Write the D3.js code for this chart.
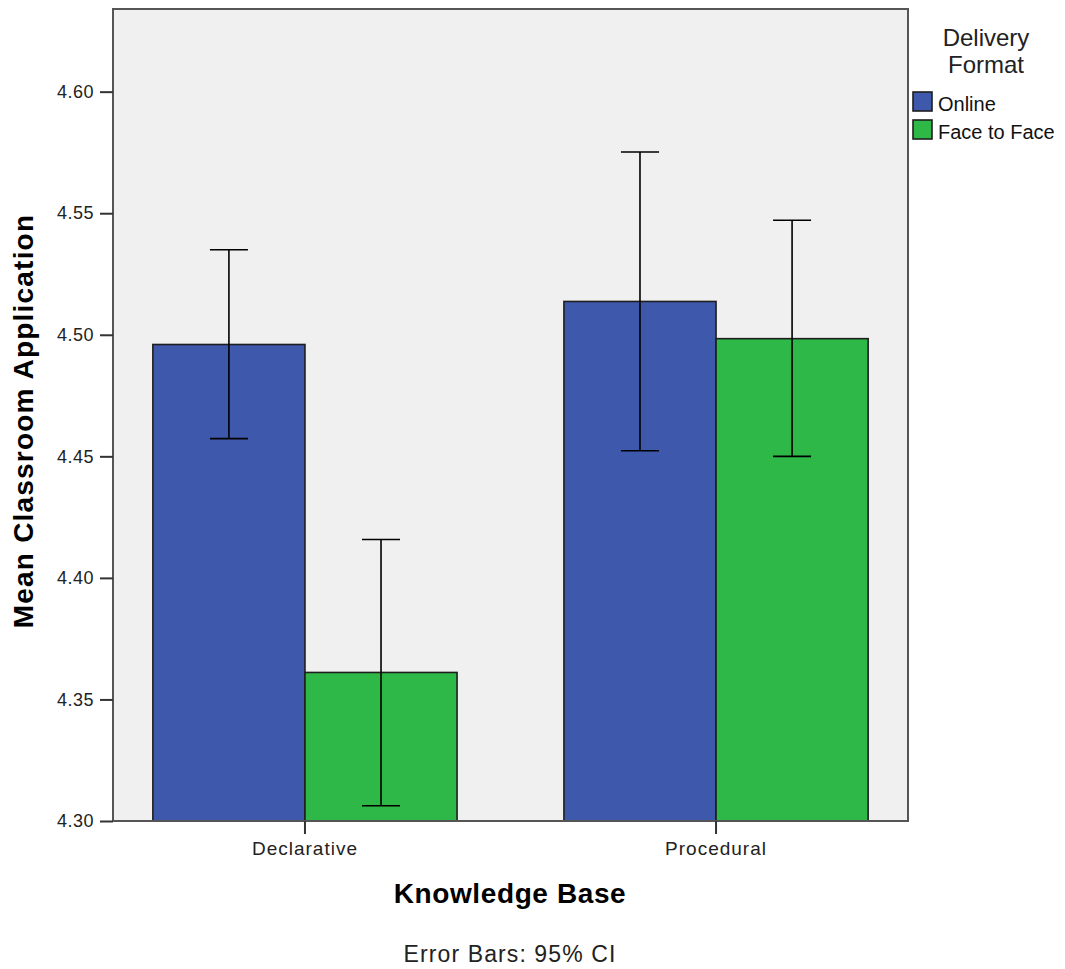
<!DOCTYPE html>
<html>
<head>
<meta charset="utf-8">
<script src="https://cdn.jsdelivr.net/npm/d3@7"></script>
<style>
  html, body { margin: 0; padding: 0; background: #fff; }
  svg { display: block; font-family: "Liberation Sans", Arial, sans-serif; }
</style>
</head>
<body>
<svg id="chart" width="1065" height="969"></svg>
<script>
// Mean classroom application by knowledge base and delivery format (95% CI)
const categories = ["Declarative", "Procedural"];
const seriesNames = ["Online", "Face to Face"];
const seriesColors = ["#3e58ac", "#2eb848"];
const onlineMeans = [4.496, 4.5137];
const onlineLower = [4.4573, 4.4523];
const onlineUpper = [4.5350, 4.5752];
const f2fMeans = [4.3611, 4.4984];
const f2fLower = [4.3063, 4.4500];
const f2fUpper = [4.4158, 4.5471];
const yTicks = [4.30, 4.35, 4.40, 4.45, 4.50, 4.55, 4.60];

const rows = [];
categories.forEach((c, i) => {
  rows.push({ cat: c, series: seriesNames[0], mean: onlineMeans[i], lo: onlineLower[i], hi: onlineUpper[i] });
  rows.push({ cat: c, series: seriesNames[1], mean: f2fMeans[i], lo: f2fLower[i], hi: f2fUpper[i] });
});

const svg = d3.select("#chart");
const plot = { left: 113, right: 908, top: 9, bottom: 821 };

const y = d3.scaleLinear().domain([4.30, 4.634]).range([plot.bottom, plot.top]);
const x0 = d3.scaleBand().domain(categories).range([plot.left, plot.right])
  .paddingInner(0.26).paddingOuter(0.097);
const x1 = d3.scaleBand().domain(seriesNames).range([0, x0.bandwidth()]).padding(0);
const color = d3.scaleOrdinal().domain(seriesNames).range(seriesColors);

// plot background
svg.append("rect")
  .attr("x", plot.left).attr("y", plot.top)
  .attr("width", plot.right - plot.left).attr("height", plot.bottom - plot.top)
  .attr("fill", "#f0f0f0");

// bars
svg.append("g").selectAll("rect").data(rows).join("rect")
  .attr("x", d => x0(d.cat) + x1(d.series))
  .attr("y", d => y(d.mean))
  .attr("width", x1.bandwidth())
  .attr("height", d => y(4.30) - y(d.mean))
  .attr("fill", d => color(d.series))
  .attr("stroke", "#1e1e1e")
  .attr("stroke-width", 1.6);

// error bars
const capHalf = 19;
const eb = svg.append("g").attr("stroke", "#000").attr("stroke-width", 1.6);
rows.forEach(d => {
  const cx = x0(d.cat) + x1(d.series) + x1.bandwidth() / 2;
  eb.append("line").attr("x1", cx).attr("x2", cx).attr("y1", y(d.lo)).attr("y2", y(d.hi));
  eb.append("line").attr("x1", cx - capHalf).attr("x2", cx + capHalf).attr("y1", y(d.lo)).attr("y2", y(d.lo));
  eb.append("line").attr("x1", cx - capHalf).attr("x2", cx + capHalf).attr("y1", y(d.hi)).attr("y2", y(d.hi));
});

// plot frame
svg.append("rect")
  .attr("x", plot.left).attr("y", plot.top)
  .attr("width", plot.right - plot.left).attr("height", plot.bottom - plot.top)
  .attr("fill", "none").attr("stroke", "#555").attr("stroke-width", 2);

// y axis
const yAxis = d3.axisLeft(y).tickValues(yTicks).tickFormat(d3.format(".2f")).tickSize(13).tickPadding(6);
const gy = svg.append("g").attr("transform", `translate(${plot.left},0)`).call(yAxis);
gy.select(".domain").remove();
gy.selectAll(".tick line").attr("stroke", "#333").attr("stroke-width", 2);
gy.selectAll(".tick text").attr("font-size", 18).attr("fill", "#222")
  .attr("font-family", "'Liberation Sans', Arial, sans-serif").style("letter-spacing", "0.5px");

// x axis
const xAxis = d3.axisBottom(x0).tickSize(13).tickPadding(8);
const gx = svg.append("g").attr("transform", `translate(0,${plot.bottom})`).call(xAxis);
gx.select(".domain").remove();
gx.selectAll(".tick line").attr("stroke", "#333").attr("stroke-width", 2);
gx.selectAll(".tick text").attr("font-size", 19).attr("fill", "#222")
  .attr("font-family", "'Liberation Sans', Arial, sans-serif").style("letter-spacing", "1px");

// axis titles
svg.append("text").attr("x", 510).attr("y", 903).attr("text-anchor", "middle")
  .attr("font-size", 28).attr("font-weight", "bold").attr("fill", "#000")
  .style("letter-spacing", "0.6px")
  .text("Knowledge Base");
svg.append("text").attr("transform", "translate(33,421) rotate(-90)").attr("text-anchor", "middle")
  .attr("font-size", 28).attr("font-weight", "bold").attr("fill", "#000")
  .style("letter-spacing", "1.2px")
  .text("Mean Classroom Application");
svg.append("text").attr("x", 510).attr("y", 962).attr("text-anchor", "middle")
  .attr("font-size", 23).attr("fill", "#222")
  .style("letter-spacing", "1.1px")
  .text("Error Bars: 95% CI");

// legend
const lg = svg.append("g");
lg.append("text").attr("x", 986).attr("y", 46).attr("text-anchor", "middle")
  .attr("font-size", 24).attr("fill", "#222").text("Delivery");
lg.append("text").attr("x", 986).attr("y", 73).attr("text-anchor", "middle")
  .attr("font-size", 24).attr("fill", "#222").text("Format");
seriesNames.forEach((s, i) => {
  const yy = 92 + i * 28;
  lg.append("rect").attr("x", 913).attr("y", yy).attr("width", 19).attr("height", 19)
    .attr("fill", color(s)).attr("stroke", "#1e1e1e").attr("stroke-width", 1.6);
  lg.append("text").attr("x", 938).attr("y", yy + 19).attr("font-size", 20).attr("fill", "#111").text(s);
});
</script>
</body>
</html>
